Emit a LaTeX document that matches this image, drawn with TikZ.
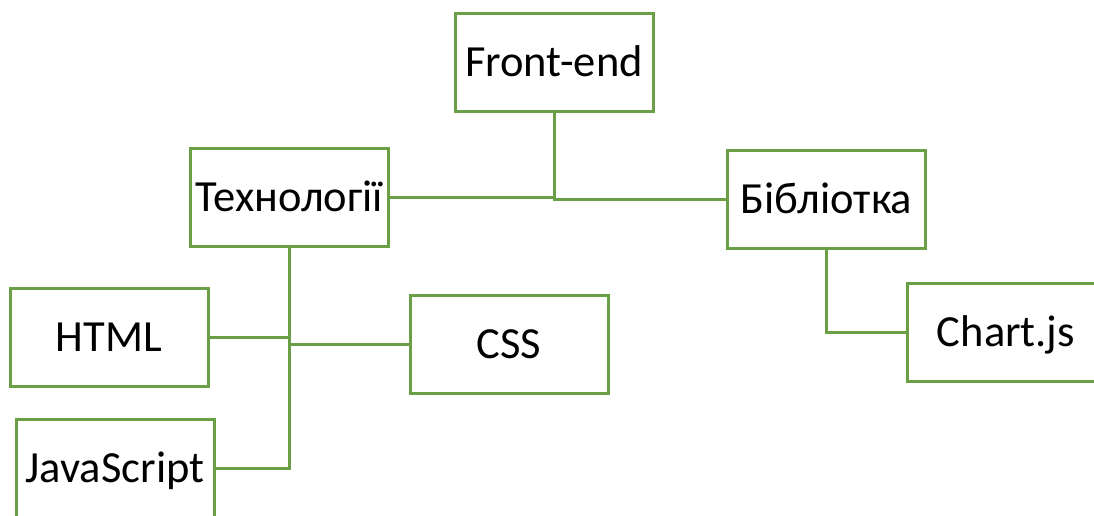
\documentclass[tikz,border=0pt]{standalone}
\usepackage{fontspec}
\setmainfont{Carlito}
\definecolor{boxgreen}{HTML}{6A9F45}
\begin{document}
\begin{tikzpicture}[x=1pt,y=-1pt,
  box/.style={draw=boxgreen, line width=3pt, fill=white, minimum width=198pt, minimum height=98pt,
    inner sep=0pt, text height=28.5pt, text depth=0pt, font=\fontsize{44.5}{53}\selectfont},
  link/.style={draw=boxgreen, line width=3pt}]
\useasboundingbox (0,0) rectangle (1094,515);
\clip (0,0) rectangle (1094,515);
\node[box] (front) at (554,62) {Front-end};
\node[box] (tech) at (289.5,197) {Технології};
\node[box] (lib) at (826.5,199) {Бібліотка};
\node[box] (html) at (109,337) {HTML};
\node[box] (css) at (509,344) {CSS};
\node[box] (chart) at (1006,332) {Chart.js};
\node[box] (js) at (115,468) {JavaScript};
\draw[link] (front.south) |- (tech.east);
\draw[link] (front.south) |- (lib.west);
\draw[link] (tech.south) |- (html.east);
\draw[link] (tech.south) |- (css.west);
\draw[link] (tech.south) |- (js.east);
\draw[link] (lib.south) |- (chart.west);
\end{tikzpicture}
\end{document}
